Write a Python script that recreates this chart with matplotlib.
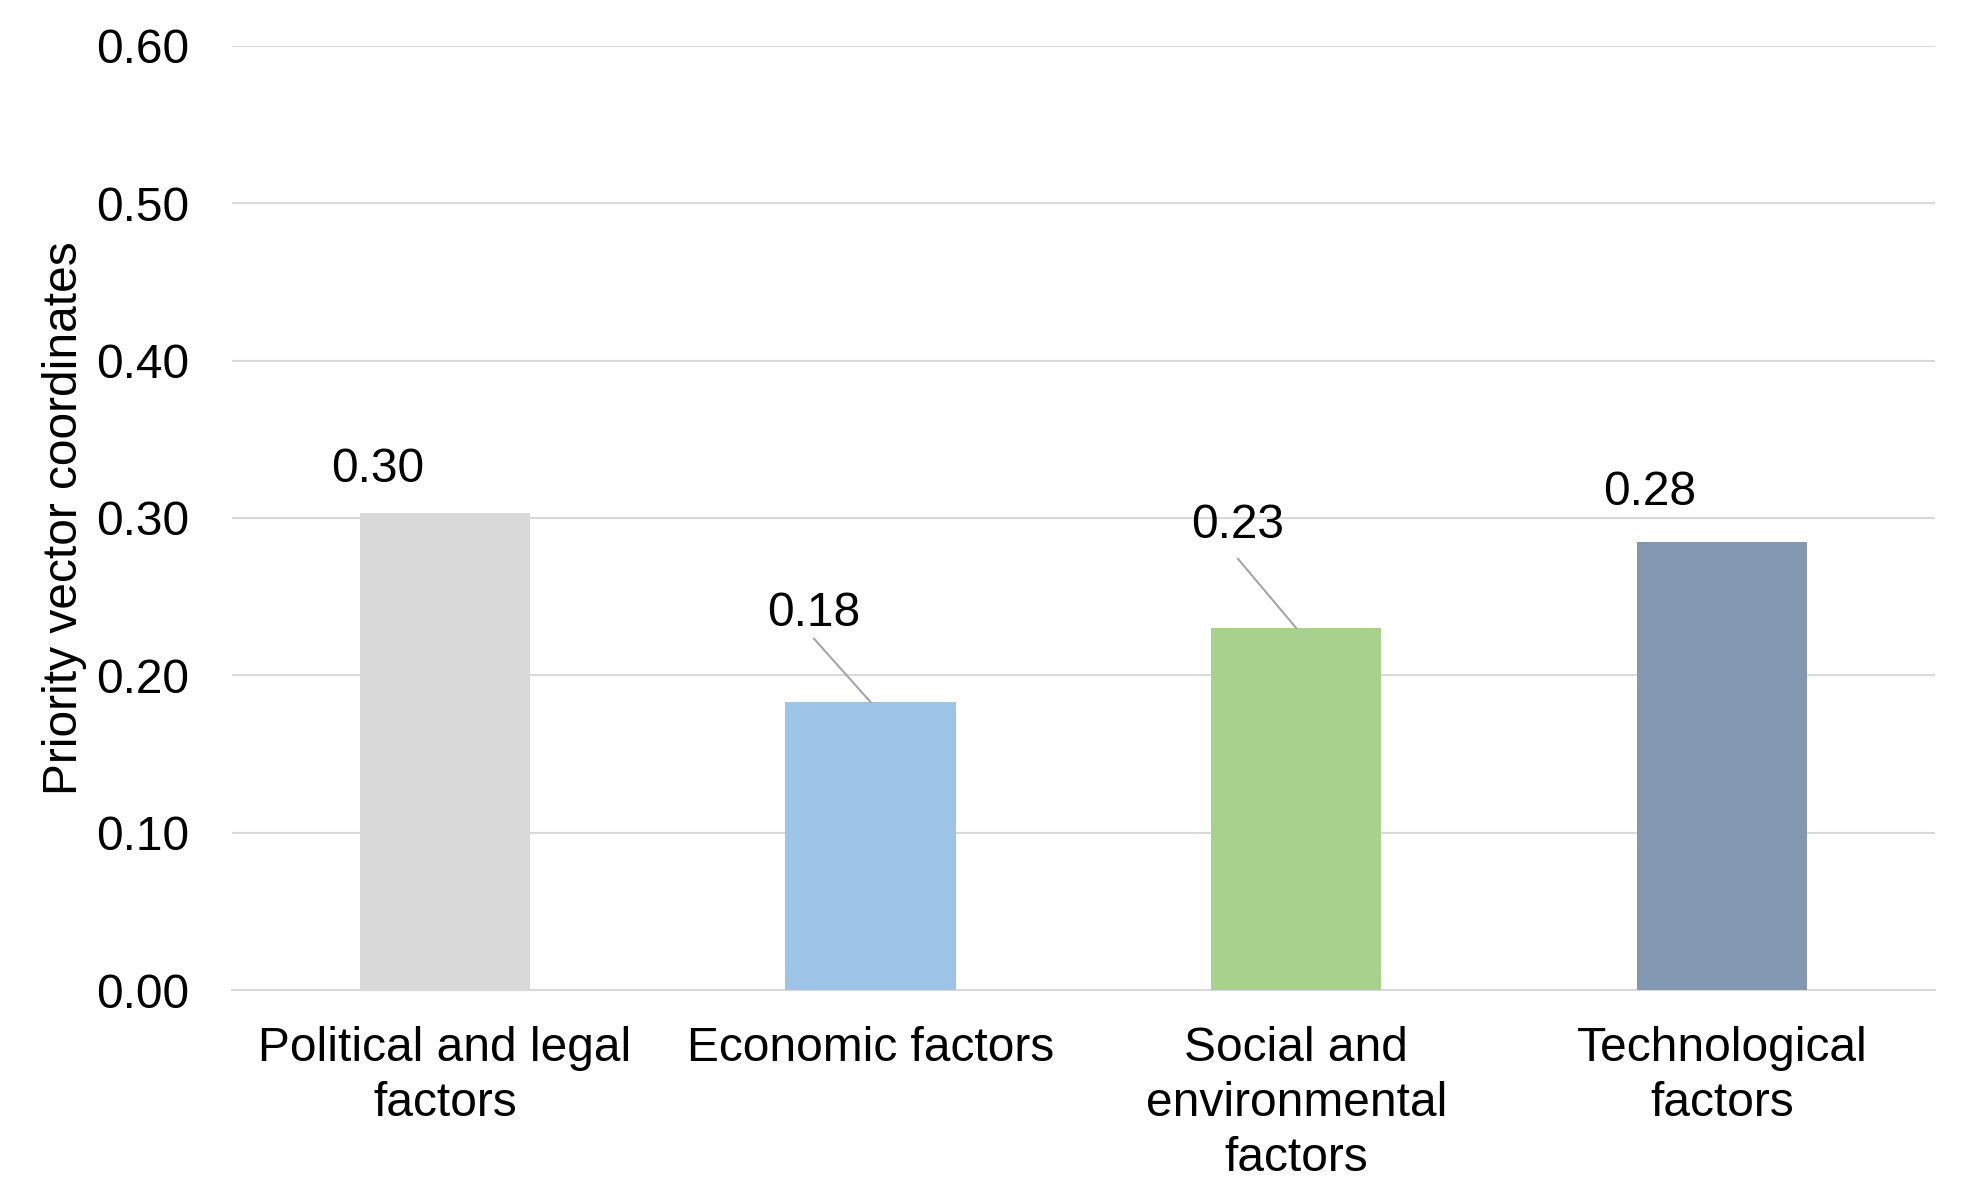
import matplotlib.pyplot as plt

# data
categories = ["Political and legal\nfactors", "Economic factors",
              "Social and\nenvironmental\nfactors", "Technological\nfactors"]
values = [0.303, 0.183, 0.230, 0.285]
value_labels = ["0.30", "0.18", "0.23", "0.28"]
colors = ["#D9D9D9", "#9DC3E6", "#A9D18E", "#8497B0"]

# where the value labels sit (data coords) and where leader lines start (None = no leader)
label_pos = [(-0.157, 0.331), (0.867, 0.239), (1.863, 0.295), (2.83, 0.316)]
leader_start = [None, (0.867, 0.2233), (1.863, 0.274), None]

plt.rcParams['font.family'] = ['Liberation Sans', 'DejaVu Sans']

fig = plt.figure(figsize=(19.64, 11.79), dpi=100)
ax = fig.add_axes([0.1181, 0.1603, 0.8671, 0.8007])

x = range(len(categories))
ax.bar(x, values, width=0.4, color=colors, zorder=3)

for i in x:
    ax.text(label_pos[i][0], label_pos[i][1], value_labels[i],
            ha='center', va='center', fontsize=34.5)
    if leader_start[i] is not None:
        ax.plot([leader_start[i][0], i], [leader_start[i][1], values[i]],
                color='#A6A6A6', lw=1.5, zorder=4)

ax.set_xlim(-0.5, 3.5)
ax.set_ylim(0, 0.6)
ax.set_yticks([0, 0.1, 0.2, 0.3, 0.4, 0.5, 0.6])
ax.set_yticklabels(["%.2f" % v for v in ax.get_yticks()])
ax.set_xticks(list(x))
ax.set_xticklabels(categories, linespacing=1.28)
ax.tick_params(axis='both', length=0, labelsize=34.5)
ax.tick_params(axis='y', pad=31)
ax.tick_params(axis='x', pad=26)

ax.grid(axis='y', color='#D9D9D9', lw=1.5, zorder=0)
for s in ['top', 'right', 'left']:
    ax.spines[s].set_visible(False)
ax.spines['bottom'].set_color('#D9D9D9')
ax.spines['bottom'].set_linewidth(1.5)

ax.set_ylabel("Priority vector coordinates", fontsize=34.5)
ax.yaxis.set_label_coords(-0.085, 0.5)

fig.savefig("out.png", dpi=100)
